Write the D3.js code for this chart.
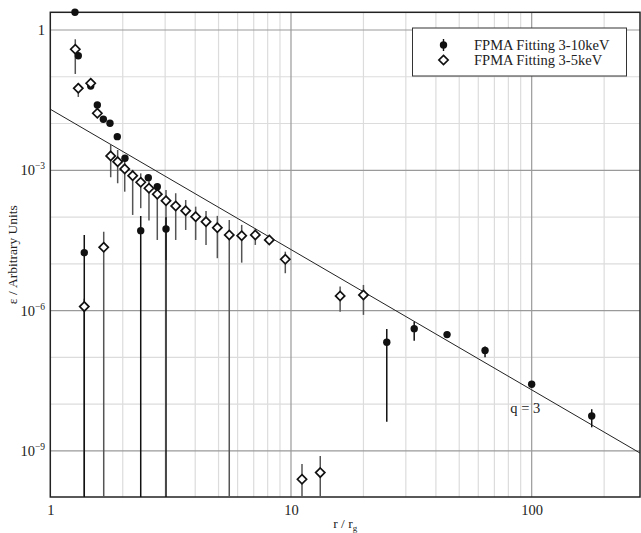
<!DOCTYPE html>
<html><head><meta charset="utf-8">
<script src="https://cdn.jsdelivr.net/npm/d3@7"></script>
<style>body{margin:0;background:#fff;} svg{display:block;} text{font-family:"Liberation Serif","Times New Roman",serif;fill:#222;}</style>
</head><body><svg id="c" width="641" height="533"></svg>
<script>
// 3-10 keV (filled circles)
const hardR  = [1.266, 1.307, 1.384, 1.472, 1.568, 1.661, 1.770, 1.898, 2.043, 2.375, 2.554, 2.783, 3.025, 25.0, 32.5, 44.5, 64, 100, 177.6];
const hardV  = [2.4, 0.282, 1.73e-5, 0.0635, 0.0249, 0.0123, 0.0101, 0.00524, 0.00181, 5.13e-5, 6.96e-4, 4.47e-4, 5.57e-5, 2.11e-7, 4.12e-7, 3.07e-7, 1.40e-7, 2.67e-8, 5.6e-9];
const hardLo = [2.4, 0.282, 1e-12, 0.0635, 0.0249, 0.0123, 0.0101, 0.00524, 0.00181, 1e-12, 6.96e-4, 4.47e-4, 1e-12, 4.23e-9, 2.28e-7, 2.75e-7, 1.01e-7, 2.5e-8, 3.2e-9];
const hardHi = [2.4, 0.282, 4.15e-5, 0.0635, 0.0249, 0.0123, 0.0101, 0.00524, 0.00181, 1.06e-4, 6.96e-4, 4.47e-4, 9.9e-5, 4.06e-7, 5.81e-7, 3.4e-7, 1.70e-7, 2.9e-8, 7.8e-9];
// 3-5 keV (open diamonds)
const softR  = [1.27, 1.307, 1.384, 1.472, 1.568, 1.667, 1.782, 1.905, 2.038, 2.199, 2.375, 2.57, 2.783, 3.025, 3.319, 3.652, 4.018, 4.436, 4.943, 5.54, 6.24, 7.108, 8.125, 9.47, 11.11, 13.23, 16, 20];
const softV  = [0.387, 0.0567, 1.22e-6, 0.0726, 0.01657, 2.26e-5, 2.03e-3, 1.53e-3, 1.07e-3, 7.68e-4, 5.55e-4, 4.13e-4, 3.08e-4, 2.24e-4, 1.73e-4, 1.37e-4, 1.02e-4, 7.98e-5, 5.94e-5, 4.15e-5, 4.0e-5, 4.15e-5, 3.24e-5, 1.25e-5, 2.48e-10, 3.44e-10, 2.06e-6, 2.16e-6];
const softLo = [0.1147, 0.037, 1e-12, 0.0726, 0.01657, 1e-12, 7.1e-4, 5.28e-4, 3.49e-4, 1.11e-4, 1.55e-4, 8.4e-5, 3.24e-5, 1.21e-5, 3.24e-5, 5.3e-5, 3.24e-5, 2.54e-5, 1.32e-5, 1e-12, 1.06e-5, 2.54e-5, 2.7e-5, 6.3e-6, 1e-12, 1e-12, 9.5e-7, 8.1e-7];
const softHi = [0.633, 0.0736, 1.8e-6, 0.0726, 0.01657, 4.88e-5, 3.48e-3, 2.72e-3, 1.84e-3, 1.02e-3, 8.6e-4, 6.2e-4, 4.86e-4, 3.8e-4, 3.23e-4, 2.32e-4, 1.67e-4, 1.35e-4, 1.06e-4, 8.7e-5, 6.8e-5, 5.77e-5, 3.8e-5, 1.82e-5, 5.28e-10, 7.8e-10, 3.26e-6, 3.54e-6];
// q = 3 emissivity law
const qIndex = 3, qNorm = 0.0202;
const xTickLabels = ["1", "10", "100"];
const yTickExps = [0, -3, -6, -9];
const legendLabels = ["FPMA Fitting 3-10keV", "FPMA Fitting 3-5keV"];
const xLabel = "r / r", xLabelSub = "g";
const yLabel = "\u03b5 / Arbitrary Units";

const svg = d3.select("#c");
const L = 50.3, R = 640, T = 12.3, B = 497;
const xMax = Math.pow(10, 2.45), yMin = Math.pow(10, -9.985), yMax = Math.pow(10, 0.378);
const x = d3.scaleLog().domain([1, xMax]).range([L, R]);
const y = d3.scaleLog().domain([yMin, yMax]).range([B, T]);
const cy = v => Math.max(T, Math.min(B, y(v)));

// grid
const g = svg.append("g");
const xMinor = [];
for (let d = 1; d <= 100; d *= 10) for (let k = 2; k <= 9; k++) if (d*k < xMax) xMinor.push(d*k);
g.selectAll(".xm").data(xMinor).join("line").attr("x1", d=>x(d)).attr("x2", d=>x(d)).attr("y1", T).attr("y2", B).attr("stroke", "#dcdcdc").attr("stroke-width", 1.2);
const yDec = d3.range(-9, 1).map(e => Math.pow(10, e));
g.selectAll(".ym").data(yDec).join("line").attr("y1", d=>y(d)).attr("y2", d=>y(d)).attr("x1", L).attr("x2", R)
  .attr("stroke", d => yTickExps.includes(Math.round(Math.log10(d))) ? "#9a9a9a" : "#dcdcdc").attr("stroke-width", 1.2);
g.selectAll(".xM").data([10, 100]).join("line").attr("x1", d=>x(d)).attr("x2", d=>x(d)).attr("y1", T).attr("y2", B).attr("stroke", "#9a9a9a").attr("stroke-width", 1.2);

// frame
svg.append("rect").attr("x", L).attr("y", T).attr("width", R-L).attr("height", B-T).attr("fill", "none").attr("stroke", "#222").attr("stroke-width", 1.5);

// axis tick labels
const xAxis = d3.axisBottom(x).tickValues([1, 10, 100]).tickFormat((d,i)=>xTickLabels[i]).tickSize(0).tickPadding(8);
const xa = svg.append("g").attr("transform", `translate(0,${B})`).call(xAxis);
xa.select(".domain").remove();
xa.selectAll("text").attr("font-size", 14.5).attr("fill", "#222");

const ya = svg.append("g");
yTickExps.forEach(e => {
  const t = ya.append("text").attr("x", 45).attr("y", y(Math.pow(10, e)) + 5).attr("text-anchor", "end").attr("font-size", 14.5);
  if (e === 0) t.text("1");
  else { t.append("tspan").text("10"); t.append("tspan").attr("dy", -6).attr("font-size", 9.5).text("\u2212" + (-e)); }
});

// axis titles
const xt = svg.append("text").attr("x", (L+R)/2).attr("y", 528).attr("text-anchor", "middle").attr("font-size", 13.5);
xt.append("tspan").text(xLabel);
xt.append("tspan").attr("dy", 3).attr("font-size", 9).text(xLabelSub);
svg.append("text").attr("transform", `translate(17,${(T+B)/2}) rotate(-90)`).attr("text-anchor", "middle").attr("font-size", 13.5).text(yLabel);

// q=3 line
const lineR = [1, xMax];
svg.append("path").datum(lineR).attr("d", d3.line().x(d=>x(d)).y(d=>y(qNorm*Math.pow(d, -qIndex))))
  .attr("stroke", "#222").attr("stroke-width", 1).attr("fill", "none");
svg.append("text").attr("x", x(94)).attr("y", y(qNorm*Math.pow(94, -qIndex)) + 27).attr("font-size", 14.5).attr("text-anchor","middle").text("q = 3");

// error bars
const hard = hardR.map((r,i)=>({r, v:hardV[i], lo:hardLo[i], hi:hardHi[i]}));
const soft = softR.map((r,i)=>({r, v:softV[i], lo:softLo[i], hi:softHi[i]}));
svg.append("g").selectAll("line").data(soft.filter(d=>d.lo<d.hi)).join("line")
  .attr("x1", d=>x(d.r)).attr("x2", d=>x(d.r)).attr("y1", d=>cy(d.hi)).attr("y2", d=>cy(d.lo)).attr("stroke", "#555").attr("stroke-width", 1.5);
svg.append("g").selectAll("line").data(hard.filter(d=>d.lo<d.hi)).join("line")
  .attr("x1", d=>x(d.r)).attr("x2", d=>x(d.r)).attr("y1", d=>cy(d.hi)).attr("y2", d=>cy(d.lo)).attr("stroke", "#111").attr("stroke-width", 1.5);

// markers
svg.append("g").selectAll("circle").data(hard).join("circle").attr("cx", d=>x(d.r)).attr("cy", d=>y(d.v)).attr("r", 3.7).attr("fill", "#111");
const dia = d3.symbol().type(d3.symbolDiamond2).size(54);
svg.append("g").selectAll("path").data(soft).join("path").attr("transform", d=>`translate(${x(d.r)},${y(d.v)})`)
  .attr("d", dia).attr("fill", "#fff").attr("stroke", "#111").attr("stroke-width", 1.7);

// legend
const lg = svg.append("g");
lg.append("rect").attr("x", 412.5).attr("y", 28).attr("width", 214).attr("height", 48).attr("fill", "#fff").attr("stroke", "#333").attr("stroke-width", 1);
[0,1].forEach(i => {
  const yy = 45 + i*15;
  if (i === 0) {
    lg.append("line").attr("x1", 443.5).attr("x2", 443.5).attr("y1", yy-6).attr("y2", yy+6).attr("stroke", "#111").attr("stroke-width", 1.4);
    lg.append("circle").attr("cx", 443.5).attr("cy", yy).attr("r", 3.7).attr("fill", "#111");
  } else {
    lg.append("path").attr("transform", `translate(443.5,${yy})`).attr("d", dia).attr("fill", "#fff").attr("stroke", "#111").attr("stroke-width", 1.7);
  }
  lg.append("text").attr("x", 474).attr("y", yy + 4.5).attr("font-size", 14.5).text(legendLabels[i]);
});
</script></body></html>
